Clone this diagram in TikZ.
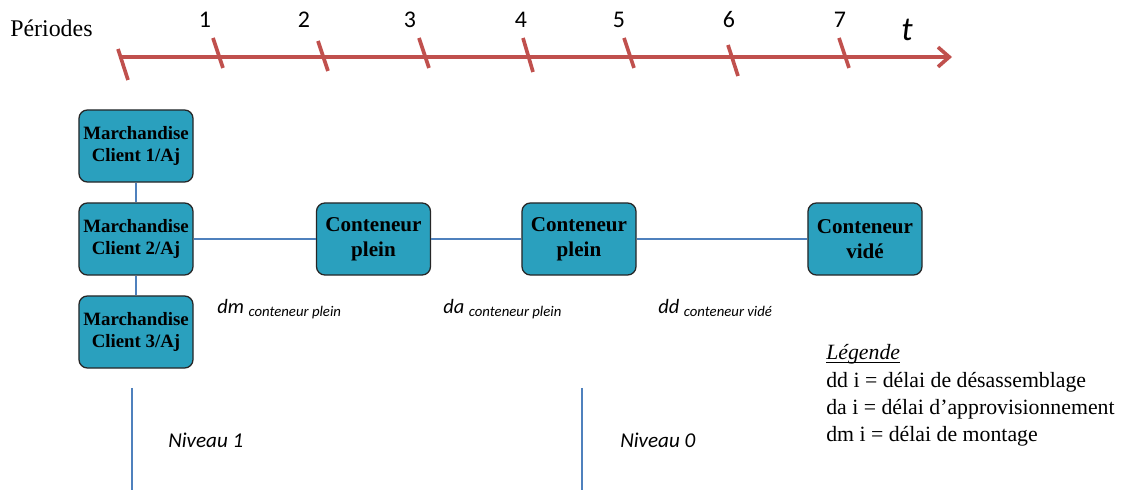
\documentclass[tikz,border=0pt]{standalone}
\usepackage{fontspec}
\setmainfont{Liberation Serif}
\setsansfont{Carlito}
\usetikzlibrary{arrows.meta}
\definecolor{axisred}{RGB}{192,80,77}
\definecolor{boxblue}{RGB}{42,160,190}
\definecolor{linkblue}{RGB}{79,129,189}

\begin{document}
\begin{tikzpicture}[x=0.025cm, y=-0.025cm,
        box/.style={draw=black!85, line width=0.9pt, fill=boxblue, rounded corners=6pt,
            minimum width=2.85cm, minimum height=1.8cm, align=center, inner sep=1pt,
            font=\bfseries\fontsize{13.4}{15}\selectfont},
        bigbox/.style={box, font=\bfseries\fontsize{15}{18}\selectfont},
        link/.style={draw=linkblue, line width=0.8pt},
        axisline/.style={draw=axisred, line width=2.6pt},
        period/.style={font=\sffamily\fontsize{17}{20}\selectfont},
        delay/.style={font=\sffamily\itshape\fontsize{14.5}{17}\selectfont, anchor=base west, inner sep=0pt},
        niveau/.style={font=\sffamily\itshape\fontsize{15}{18}\selectfont, anchor=west, inner sep=0pt},
        legendtext/.style={font=\fontsize{15.5}{19.1}\selectfont, anchor=base west, inner sep=0pt, align=left}]
    \useasboundingbox (0,0) rectangle (1122,490);

    % time axis
    \node[anchor=west, inner sep=0pt, font=\fontsize{17}{20}\selectfont] (periodes) at (10,28) {Périodes};
    \coordinate (tstart) at (122,57);
    \coordinate (tend) at (952,57);
    \draw[axisline, -{Straight Barb[length=8pt, width=14pt]}] (tstart) -- (tend);
    \foreach \xa/\ya/\xb/\yb in {118/49/128/80, 213/38/223/68, 318/41/328/71, 419/38/429/68,
            523/38/533/72, 624/38/634/68, 728/45/738/76, 839/38/849/68}
        \draw[axisline] (\xa,\ya) -- (\xb,\yb);
    \foreach \n/\x in {1/205, 2/304, 3/410, 4/521, 5/619, 6/729, 7/840}
        \node[period] (p\n) at (\x,20) {\n};
    \node[font=\sffamily\itshape\fontsize{24}{28}\selectfont] (t) at (907,30) {t};

    % goods and containers
    \node[box] (m1) at (136,146) {Marchandise\\Client 1/Aj};
    \node[box] (m2) at (136,239) {Marchandise\\Client 2/Aj};
    \node[box] (m3) at (136,332) {Marchandise\\Client 3/Aj};
    \node[bigbox] (c1) at (373.5,239) {Conteneur\\plein};
    \node[bigbox] (c2) at (579,239) {Conteneur\\plein};
    \node[bigbox] (c3) at (865,239) {Conteneur\\vidé};
    \draw[link] (m1) -- (m2);
    \draw[link] (m2) -- (m3);
    \draw[link] (m2) -- (c1);
    \draw[link] (c1) -- (c2);
    \draw[link] (c2) -- (c3);

    % delays
    \node[delay] (dm) at (217,314) {dm \raisebox{-1.5pt}{\fontsize{10.5}{12}\selectfont conteneur plein}};
    \node[delay] (da) at (443,314) {da \raisebox{-1.5pt}{\fontsize{10.5}{12}\selectfont conteneur plein}};
    \node[delay] (dd) at (658,314) {dd \raisebox{-1.5pt}{\fontsize{10.5}{12}\selectfont conteneur vidé}};

    % legend
    \node[legendtext] (legtitle) at (826,360) {\textit{Légende}};
    \draw[line width=0.6pt] ([yshift=-1.5pt]legtitle.base west) -- ([yshift=-1.5pt]legtitle.base east);
    \node[legendtext, anchor=north west] (legende) at (826,372)
        {dd i = délai de désassemblage\\
        da i = délai d’approvisionnement\\
        dm i = délai de montage};

    % levels
    \coordinate (n1top) at (132,388);
    \coordinate (n1bot) at (132,490);
    \coordinate (n0top) at (582,388);
    \coordinate (n0bot) at (582,490);
    \draw[link, line width=1pt] (n1top) -- (n1bot);
    \draw[link, line width=1pt] (n0top) -- (n0bot);
    \node[niveau] (niv1) at (168,440) {Niveau 1};
    \node[niveau] (niv0) at (620,440) {Niveau 0};
\end{tikzpicture}
\end{document}
